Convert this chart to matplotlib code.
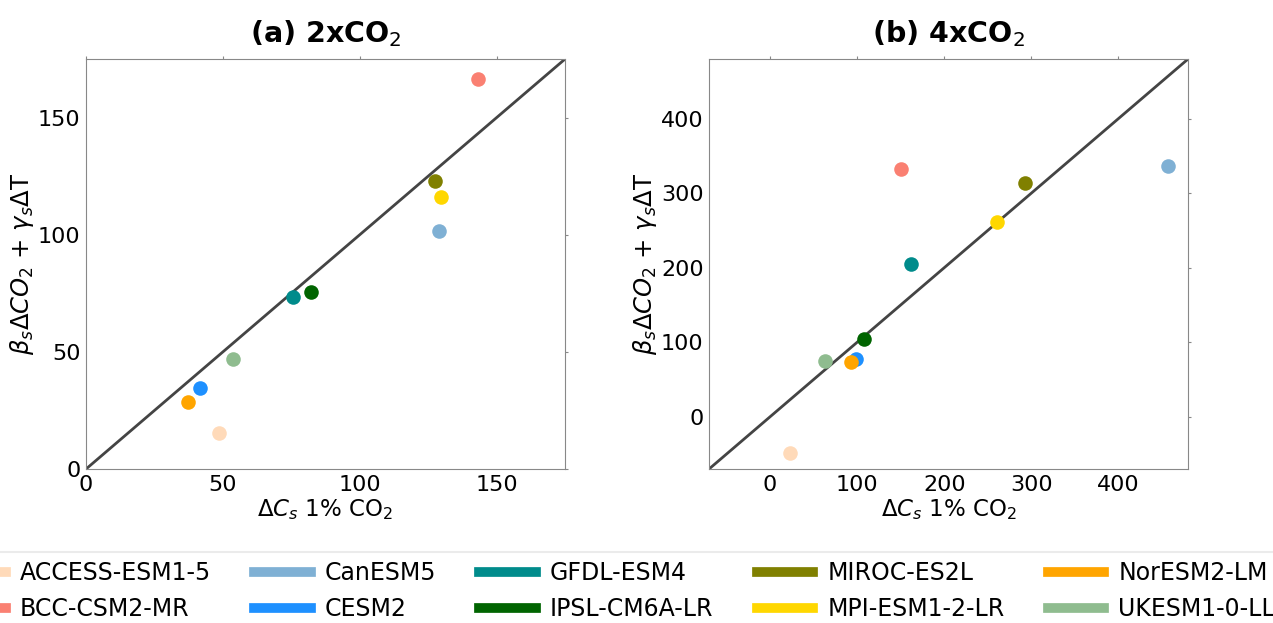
import numpy as np
import matplotlib.pyplot as plt
from matplotlib.lines import Line2D

models = ['ACCESS-ESM1-5', 'BCC-CSM2-MR', 'CanESM5', 'CESM2', 'GFDL-ESM4',
          'IPSL-CM6A-LR', 'MIROC-ES2L', 'MPI-ESM1-2-LR', 'NorESM2-LM', 'UKESM1-0-LL']
colors = ['#ffdab9', '#fa8072', '#7fb0d4', '#1e90ff', '#008b8b',
          '#006400', '#808000', '#ffd700', '#ffa500', '#8fbc8f']

# (a) 2xCO2
dcs_2x = [48.5, 143.3, 128.9, 41.5, 75.5, 82.2, 127.3, 129.6, 37.3, 53.6]
fit_2x = [15.2, 166.5, 101.6, 34.4, 73.3, 75.4, 123.0, 116.2, 28.6, 46.8]

# (b) 4xCO2
dcs_4x = [22.6, 150.1, 457.3, 99.0, 162.0, 107.4, 292.3, 260.6, 93.3, 63.5]
fit_4x = [-48.4, 332.4, 336.4, 77.5, 204.7, 104.4, 313.2, 260.8, 73.0, 74.8]

panels = [
    ('(a) 2xCO$_2$', dcs_2x, fit_2x, (0, 175), [0, 50, 100, 150]),
    ('(b) 4xCO$_2$', dcs_4x, fit_4x, (-70, 480), [0, 100, 200, 300, 400]),
]

fig = plt.figure(figsize=(12.73, 6.23), dpi=100)
lefts = [0.0676, 0.5570]

for left, (title, xs, ys, lim, ticks) in zip(lefts, panels):
    ax = fig.add_axes([left, 0.2472, 0.3763, 0.6581])
    # 1:1 line
    ax.plot(lim, lim, color='#444444', lw=2, zorder=1)
    for x, y, c in zip(xs, ys, colors):
        ax.scatter(x, y, s=110, color=c, zorder=2, linewidths=0)
    ax.set_xlim(lim)
    ax.set_ylim(lim)
    ax.set_xticks(ticks)
    ax.set_yticks(ticks)
    ax.tick_params(labelsize=16, colors='#888888', labelcolor='black',
                   left=False, bottom=False, top=True, right=True,
                   length=2.5, pad=1.5)
    for sp in ax.spines.values():
        sp.set_color('#888888')
    ax.set_title(title, fontsize=20.5, fontweight='bold', pad=12)
    ax.set_xlabel(r'$\Delta C_s$ 1% CO$_2$', fontsize=16.5, labelpad=2)
    ax.set_ylabel(r'$\beta_s \Delta CO_2$ + $\gamma_s \Delta$T', fontsize=17.5, labelpad=1)

handles = [Line2D([0], [0], color=c, lw=7) for c in colors]
leg = fig.legend(handles, models, loc='upper center', bbox_to_anchor=(0.4807, 0.114),
                 ncol=5, fontsize=17, handlelength=2.4, handletextpad=0.6,
                 columnspacing=1.82, borderaxespad=0, frameon=True,
                 edgecolor='#e6e6e6', fancybox=False)
leg.get_frame().set_linewidth(1.5)

fig.savefig('out.png', dpi=100)
